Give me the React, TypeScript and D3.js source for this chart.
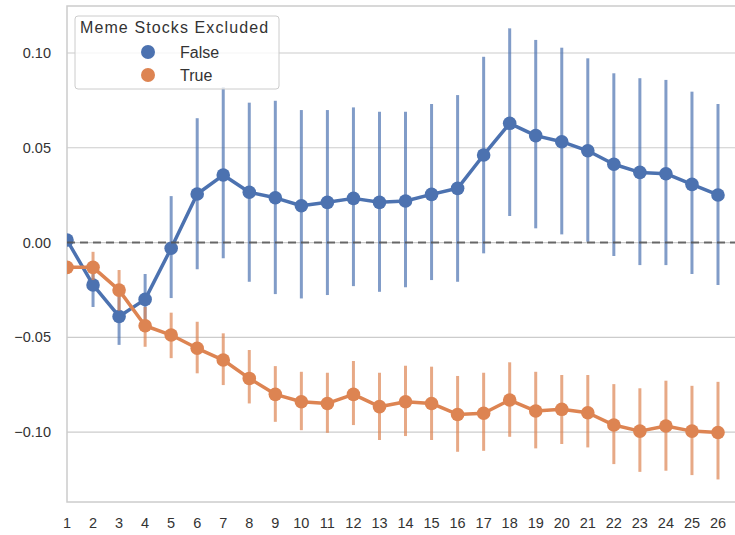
import React from 'react';
import * as d3 from 'd3';

const categories = d3.range(1, 27).map(String);

// Meme Stocks Excluded = False
const falseMean = [0.0013, -0.0224, -0.039, -0.030, -0.003, 0.0256, 0.0356, 0.0265, 0.0236, 0.0194, 0.0212, 0.0233, 0.0212,
  0.0219, 0.0254, 0.0286, 0.0462, 0.0629, 0.0564, 0.0532, 0.0484, 0.0413, 0.037, 0.0363, 0.0307, 0.0251];
const falseHigh = [0.002, -0.011, -0.024, -0.0166, 0.0245, 0.0656, 0.082, 0.0738, 0.0748, 0.0699, 0.0699, 0.0713, 0.069,
  0.069, 0.0731, 0.0778, 0.098, 0.113, 0.1069, 0.1028, 0.0972, 0.0893, 0.0867, 0.0858, 0.0796, 0.0731];
const falseLow = [0.0006, -0.034, -0.054, -0.0435, -0.0293, -0.0141, -0.0083, -0.0207, -0.0272, -0.0295, -0.0277, -0.023, -0.026,
  -0.0236, -0.0198, -0.0207, -0.0057, 0.014, 0.0075, 0.0043, 0.0004, -0.0071, -0.0119, -0.0119, -0.0166, -0.0224];

// Meme Stocks Excluded = True
const trueMean = [-0.0131, -0.0131, -0.0251, -0.0439, -0.0488, -0.0558, -0.062, -0.0717, -0.0801, -0.084, -0.0849, -0.0801, -0.0866,
  -0.084, -0.0849, -0.0907, -0.0901, -0.0831, -0.0889, -0.088, -0.0898, -0.0963, -0.0995, -0.0968, -0.0995, -0.1002];
const trueHigh = [-0.0125, -0.0049, -0.0145, -0.034, -0.037, -0.0418, -0.0479, -0.0567, -0.0652, -0.0682, -0.0687, -0.0625, -0.0687,
  -0.065, -0.0655, -0.0704, -0.0687, -0.0632, -0.0682, -0.0699, -0.0699, -0.0747, -0.0769, -0.0729, -0.0756, -0.0735];
const trueLow = [-0.0137, -0.0198, -0.036, -0.055, -0.061, -0.069, -0.0752, -0.0849, -0.0946, -0.099, -0.1004, -0.0963, -0.1042,
  -0.1021, -0.1042, -0.1104, -0.1099, -0.1025, -0.1086, -0.1063, -0.1081, -0.1169, -0.121, -0.1204, -0.1227, -0.125];

const yTicks = [-0.1, -0.05, 0, 0.05, 0.1];

const series = [
  {label: 'False', color: '#4c72b0', mean: falseMean, low: falseLow, high: falseHigh},
  {label: 'True', color: '#dd8452', mean: trueMean, low: trueLow, high: trueHigh},
];

const font = '"Liberation Sans", Arial, sans-serif';

export default function App() {
  const left = 67, right = 740, top = 6, bottom = 502;

  const x = d3.scalePoint<string>().domain(categories).range([67, 718]);
  const y = d3.scaleLinear().domain([-0.1369, 0.1248]).range([bottom, top]);
  const line = d3.line<number>()
    .x((_, i) => x(categories[i]) as number)
    .y(d => y(d));
  const fmt = (v: number) => d3.format('.2f')(v).replace('-', '\u2212');

  return (
    <svg width={735} height={535} style={{position: 'absolute', left: 0, top: 0, background: '#fff'}}>
      <defs>
        <clipPath id="plot">
          <rect x={left} y={top} width={right - left} height={bottom - top} />
        </clipPath>
      </defs>
      {/* horizontal grid */}
      {yTicks.map(t => (
        <line key={t} x1={left} x2={right} y1={y(t)} y2={y(t)} stroke="#cccccc" strokeWidth={1.2} />
      ))}
      {/* spines */}
      <rect x={left} y={top} width={right - left} height={bottom - top} fill="none" stroke="#cccccc" strokeWidth={1.5} />

      <g clipPath="url(#plot)">
        {series.map(s => (
          <g key={s.label}>
            {s.mean.map((_, i) => (
              <line
                key={i}
                x1={x(categories[i])}
                x2={x(categories[i])}
                y1={y(s.low[i])}
                y2={y(s.high[i])}
                stroke={s.color}
                strokeOpacity={0.7}
                strokeWidth={3}
              />
            ))}
            <path d={line(s.mean) || ''} fill="none" stroke={s.color} strokeWidth={3.5} strokeLinejoin="round" />
            {s.mean.map((v, i) => (
              <circle key={i} cx={x(categories[i])} cy={y(v)} r={6.8} fill={s.color} />
            ))}
          </g>
        ))}
        {/* zero reference line */}
        <line x1={left} x2={right} y1={y(0)} y2={y(0)} stroke="#555" strokeOpacity={0.85} strokeWidth={2} strokeDasharray="8,5" />
      </g>

      {/* y axis labels */}
      {yTicks.map(t => (
        <text key={t} x={51} y={y(t)} dy="0.35em" textAnchor="end" fontFamily={font} fontSize={14.5} fill="#333">
          {fmt(t)}
        </text>
      ))}
      {/* x axis labels */}
      {categories.map(c => (
        <text key={c} x={x(c)} y={523} dy="0.35em" textAnchor="middle" fontFamily={font} fontSize={14.5} fill="#333">
          {c}
        </text>
      ))}

      {/* legend */}
      <g>
        <rect x={75} y={16} width={204} height={73} rx={3} fill="#fff" fillOpacity={0.8} stroke="#cccccc" strokeWidth={1} />
        <text x={80} y={27} dy="0.35em" fontFamily={font} fontSize={16} letterSpacing={1.1} fill="#333">
          Meme Stocks Excluded
        </text>
        {series.map((s, i) => (
          <g key={s.label}>
            <circle cx={148} cy={52 + i * 23} r={7} fill={s.color} />
            <text x={180} y={52 + i * 23} dy="0.35em" fontFamily={font} fontSize={16} fill="#333">
              {s.label}
            </text>
          </g>
        ))}
      </g>
    </svg>
  );
}
